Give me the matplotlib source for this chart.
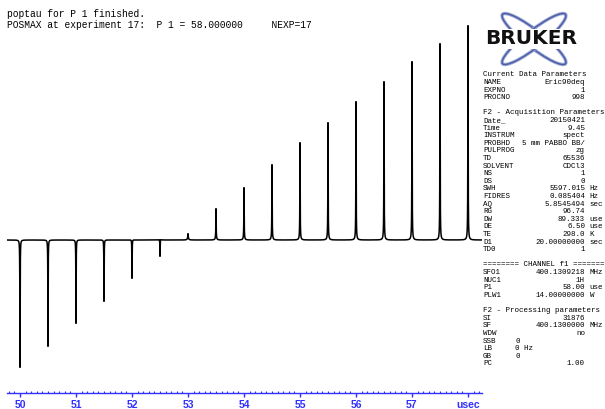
import numpy as np
import matplotlib
matplotlib.use("Agg")
import matplotlib.pyplot as plt
from matplotlib.patches import Ellipse
from matplotlib.ticker import MultipleLocator, FixedLocator, FixedFormatter

W, H = 605, 409

# pulse lengths (usec) and peak intensities of the 17 experiments
p1_usec = [50.0, 50.5, 51.0, 51.5, 52.0, 52.5, 53.0, 53.5, 54.0,
           54.5, 55.0, 55.5, 56.0, 56.5, 57.0, 57.5, 58.0]
intensity = [-130, -109, -86, -64, -41, -19, 4, 29, 50,
             73, 95, 115, 136, 156, 176, 194, 212]

tick_pos = [50, 51, 52, 53, 54, 55, 56, 57, 58]
tick_lab = ["50", "51", "52", "53", "54", "55", "56", "57", "usec"]

header = ["poptau for P 1 finished.",
          "POSMAX at experiment 17:  P 1 = 58.000000     NEXP=17"]

# parameter listing: (name, value, unit); None = blank line, str = title
params = [
    "Current Data Parameters",
    ("NAME", "Eric90deq", ""),
    ("EXPNO", "1", ""),
    ("PROCNO", "998", ""),
    None,
    "F2 - Acquisition Parameters",
    ("Date_", "20150421", ""),
    ("Time", "9.45", ""),
    ("INSTRUM", "spect", ""),
    ("PROBHD", "5 mm PABBO BB/", ""),
    ("PULPROG", "zg", ""),
    ("TD", "65536", ""),
    ("SOLVENT", "CDCl3", ""),
    ("NS", "1", ""),
    ("DS", "0", ""),
    ("SWH", "5597.015", "Hz"),
    ("FIDRES", "0.085404", "Hz"),
    ("AQ", "5.8545494", "sec"),
    ("RG", "96.74", ""),
    ("DW", "89.333", "use"),
    ("DE", "6.50", "use"),
    ("TE", "298.0", "K"),
    ("D1", "20.00000000", "sec"),
    ("TD0", "1", ""),
    None,
    "======== CHANNEL f1 =======",
    ("SFO1", "400.1309218", "MHz"),
    ("NUC1", "1H", ""),
    ("P1", "58.00", "use"),
    ("PLW1", "14.00000000", "W"),
    None,
    "F2 - Processing parameters",
    ("SI", "31876", ""),
    ("SF", "400.1300000", "MHz"),
    ("WDW", "no", ""),
    ("SSB", "0", "left"),
    ("LB", "0 Hz", "left"),
    ("GB", "0", "left"),
    ("PC", "1.00", ""),
]

blue = "#3030ff"
mono = "Liberation Mono"


def fx(x):
    return x / W


def fy(y):
    return 1 - y / H


fig = plt.figure(figsize=(W / 100, H / 100), dpi=100)

# spectrum axes: x 7..482 px, y 20..392.7 px, baseline at 240 px
x0, x1 = 7, 482
ytop, ybot = 20, 392.7
ax = fig.add_axes([fx(x0), fy(ybot), (x1 - x0) / W, (ybot - ytop) / H])
u_left = 50 - (20 - x0) / 56.0
u_right = 50 + (x1 - 20) / 56.0
ax.set_xlim(u_left, u_right)
ax.set_ylim(-(ybot - 240), 240 - ytop)

u = np.linspace(u_left, u_right, 40001)
u = np.sort(np.concatenate([u, p1_usec]))
spec = np.zeros_like(u)
for c, a in zip(p1_usec, intensity):
    g = 0.003
    spec += a * g ** 2 / ((u - c) ** 2 + g ** 2)
    spec += 2.5 * 0.012 ** 2 / ((u - c) ** 2 + 0.012 ** 2)
ax.plot(u, spec, color="black", lw=1.1, solid_joinstyle="miter")

for s in ["left", "right", "top"]:
    ax.spines[s].set_visible(False)
ax.spines["bottom"].set_color(blue)
ax.spines["bottom"].set_linewidth(1.0)
ax.set_yticks([])
ax.xaxis.set_major_locator(FixedLocator(tick_pos))
ax.xaxis.set_major_formatter(FixedFormatter(tick_lab))
ax.xaxis.set_minor_locator(MultipleLocator(0.1))
ax.tick_params(axis="x", which="major", direction="out", length=3,
               width=1.0, color=blue, pad=2.0)
ax.tick_params(axis="x", which="minor", direction="in", length=1.6,
               width=0.8, color=blue)
for lab in ax.get_xticklabels():
    lab.set_color(blue)
    lab.set_fontweight("bold")
    lab.set_fontsize(7.5)
    lab.set_fontfamily("Liberation Sans")

# header text
fig.text(fx(7), fy(14), header[0], family=mono, fontsize=6.9, va="center")
fig.text(fx(7), fy(25), header[1], family=mono, fontsize=6.9, va="center")

# Bruker logo
lax = fig.add_axes([fx(478), fy(72), 112 / W, 68 / H])
lax.set_xlim(478, 590)
lax.set_ylim(72, 4)
lax.axis("off")
for ang in (38, -38):
    lax.add_patch(Ellipse((534, 39), 80, 17, angle=ang, fill=False,
                          ec="#9aa6d4", lw=2.4))
    lax.add_patch(Ellipse((534, 39), 80, 17, angle=ang, fill=False,
                          ec="#4a5ca4", lw=1.0))
lax.text(531, 39, "BRUKER", ha="center", va="center", fontsize=14.5,
         fontweight="bold", family="DejaVu Sans", color="#111111",
         bbox=dict(boxstyle="square,pad=0.02", fc="white", ec="none"))

# parameter listing
y = 75
for row in params:
    if isinstance(row, str):
        fig.text(fx(483), fy(y), row, family=mono, fontsize=5.4, va="center")
    elif row is not None:
        name, val, unit = row
        fig.text(fx(483), fy(y), name, family=mono, fontsize=5.4, va="center")
        if unit == "left":
            fig.text(fx(515), fy(y), val, family=mono, fontsize=5.4,
                     va="center")
        else:
            fig.text(fx(585), fy(y), val, family=mono, fontsize=5.4,
                     va="center", ha="right")
            if unit:
                fig.text(fx(589.5), fy(y), unit, family=mono, fontsize=5.4,
                         va="center")
    y += 7.6

fig.savefig("out.png", dpi=100)
